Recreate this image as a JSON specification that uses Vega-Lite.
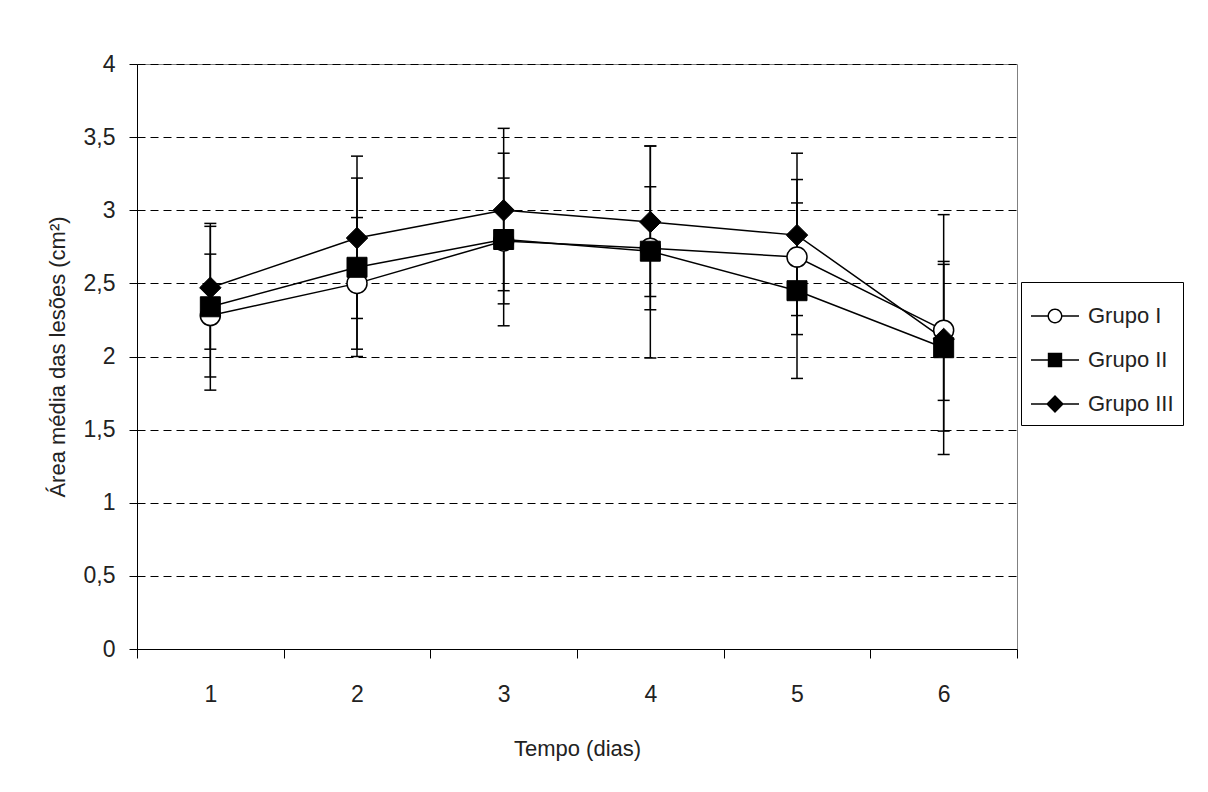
{
  "$schema": "https://vega.github.io/schema/vega-lite/v6.json",
  "autosize": "none",
  "width": 880,
  "height": 585,
  "padding": {"left": 137, "top": 64, "right": 191, "bottom": 143},
  "background": "white",
  "config": {
    "font": "Liberation Sans",
    "view": {"stroke": "#808080", "strokeWidth": 1},
    "axis": {
      "labelFont": "Liberation Sans",
      "titleFont": "Liberation Sans",
      "labelColor": "#222",
      "titleColor": "#222",
      "titleFontWeight": "normal",
      "domainColor": "black",
      "tickColor": "black",
      "domainWidth": 1,
      "tickWidth": 1
    },
    "legend": {
      "orient": "none",
      "legendX": 884,
      "legendY": 218,
      "strokeColor": "black",
      "fillColor": "white",
      "padding": 9,
      "symbolSize": 2304,
      "symbolOpacity": 1,
      "symbolFillColor": "black",
      "labelFont": "Liberation Sans",
      "labelFontSize": 22,
      "labelColor": "#222",
      "labelOffset": 8,
      "rowPadding": 8
    }
  },
  "data": {
    "values": [
      {"dia": "1", "grupo": "Grupo I", "media": 2.28, "inf": 1.86, "sup": 2.70},
      {"dia": "2", "grupo": "Grupo I", "media": 2.50, "inf": 2.05, "sup": 2.95},
      {"dia": "3", "grupo": "Grupo I", "media": 2.79, "inf": 2.36, "sup": 3.22},
      {"dia": "4", "grupo": "Grupo I", "media": 2.74, "inf": 2.32, "sup": 3.16},
      {"dia": "5", "grupo": "Grupo I", "media": 2.68, "inf": 2.15, "sup": 3.21},
      {"dia": "6", "grupo": "Grupo I", "media": 2.18, "inf": 1.70, "sup": 2.65},
      {"dia": "1", "grupo": "Grupo II", "media": 2.34, "inf": 1.77, "sup": 2.91},
      {"dia": "2", "grupo": "Grupo II", "media": 2.61, "inf": 2.00, "sup": 3.22},
      {"dia": "3", "grupo": "Grupo II", "media": 2.80, "inf": 2.21, "sup": 3.39},
      {"dia": "4", "grupo": "Grupo II", "media": 2.72, "inf": 1.99, "sup": 3.44},
      {"dia": "5", "grupo": "Grupo II", "media": 2.45, "inf": 1.85, "sup": 3.05},
      {"dia": "6", "grupo": "Grupo II", "media": 2.06, "inf": 1.49, "sup": 2.63},
      {"dia": "1", "grupo": "Grupo III", "media": 2.47, "inf": 2.05, "sup": 2.89},
      {"dia": "2", "grupo": "Grupo III", "media": 2.81, "inf": 2.26, "sup": 3.37},
      {"dia": "3", "grupo": "Grupo III", "media": 3.00, "inf": 2.45, "sup": 3.56},
      {"dia": "4", "grupo": "Grupo III", "media": 2.92, "inf": 2.41, "sup": 3.44},
      {"dia": "5", "grupo": "Grupo III", "media": 2.83, "inf": 2.28, "sup": 3.39},
      {"dia": "6", "grupo": "Grupo III", "media": 2.12, "inf": 1.33, "sup": 2.97}
    ]
  },
  "encoding": {
    "x": {
      "field": "dia",
      "type": "ordinal",
      "scale": {"type": "band", "paddingInner": 0, "paddingOuter": 0},
      "axis": {
        "title": "Tempo (dias)",
        "labelAngle": 0,
        "labelFontSize": 23,
        "titleFontSize": 22,
        "tickBand": "extent",
        "tickSize": 9,
        "labelPadding": 25,
        "titlePadding": 32,
        "grid": false
      }
    }
  },
  "layer": [
    {
      "mark": {"type": "rule", "color": "black", "strokeWidth": 1.5},
      "encoding": {
        "y": {
          "field": "inf",
          "type": "quantitative",
          "scale": {"domain": [0, 4], "nice": false, "zero": true},
          "axis": {
            "title": "Área média das lesões (cm²)",
            "values": [0, 0.5, 1, 1.5, 2, 2.5, 3, 3.5, 4],
            "labelExpr": "replace(format(datum.value, '.1~f'), '.', ',')",
            "labelFontSize": 23,
            "titleFontSize": 22,
            "tickSize": 8,
            "labelPadding": 14,
            "titlePadding": 14,
            "grid": true,
            "gridColor": "black",
            "gridDash": [8, 5],
            "gridWidth": 1,
            "gridOpacity": 1
          }
        },
        "y2": {"field": "sup"}
      }
    },
    {
      "mark": {"type": "tick", "color": "black", "size": 12, "thickness": 1.5, "opacity": 1},
      "encoding": {"y": {"field": "inf", "type": "quantitative"}}
    },
    {
      "mark": {"type": "tick", "color": "black", "size": 12, "thickness": 1.5, "opacity": 1},
      "encoding": {"y": {"field": "sup", "type": "quantitative"}}
    },
    {
      "mark": {"type": "line", "color": "black", "strokeWidth": 1.5},
      "encoding": {
        "y": {"field": "media", "type": "quantitative"},
        "detail": {"field": "grupo", "type": "nominal"}
      }
    },
    {
      "transform": [{"filter": "datum.grupo === 'Grupo I'"}],
      "mark": {"type": "point", "shape": "circle", "filled": true, "fill": "white", "opacity": 1, "stroke": "black", "strokeWidth": 1.5, "size": 400},
      "encoding": {"y": {"field": "media", "type": "quantitative"}}
    },
    {
      "transform": [{"filter": "datum.grupo === 'Grupo II'"}],
      "mark": {"type": "point", "shape": "square", "filled": true, "fill": "black", "opacity": 1, "stroke": "black", "strokeWidth": 1, "size": 400},
      "encoding": {"y": {"field": "media", "type": "quantitative"}}
    },
    {
      "transform": [{"filter": "datum.grupo === 'Grupo III'"}],
      "mark": {"type": "point", "shape": "diamond", "filled": true, "fill": "black", "opacity": 1, "stroke": "black", "strokeWidth": 1, "size": 460},
      "encoding": {"y": {"field": "media", "type": "quantitative"}}
    },
    {
      "mark": {"type": "point", "filled": true, "color": "black", "opacity": 0, "size": 10},
      "encoding": {
        "y": {"field": "media", "type": "quantitative"},
        "shape": {
          "field": "grupo",
          "type": "nominal",
          "scale": {
            "domain": ["Grupo I", "Grupo II", "Grupo III"],
            "range": [
              "M-1,-0.03H-0.3V0.03H-1ZM0.3,-0.03H1V0.03H0.3ZM-0.31,0A0.31,0.31 0 1,1 0.31,0A0.31,0.31 0 1,1 -0.31,0ZM-0.25,0A0.25,0.25 0 1,0 0.25,0A0.25,0.25 0 1,0 -0.25,0Z",
              "M-1,-0.03H1V0.03H-1ZM-0.3,-0.3H0.3V0.3H-0.3Z",
              "M-1,-0.03H1V0.03H-1ZM-0.37,0L0,-0.37L0.37,0L0,0.37Z"
            ]
          },
          "legend": {"title": null}
        }
      }
    }
  ]
}
